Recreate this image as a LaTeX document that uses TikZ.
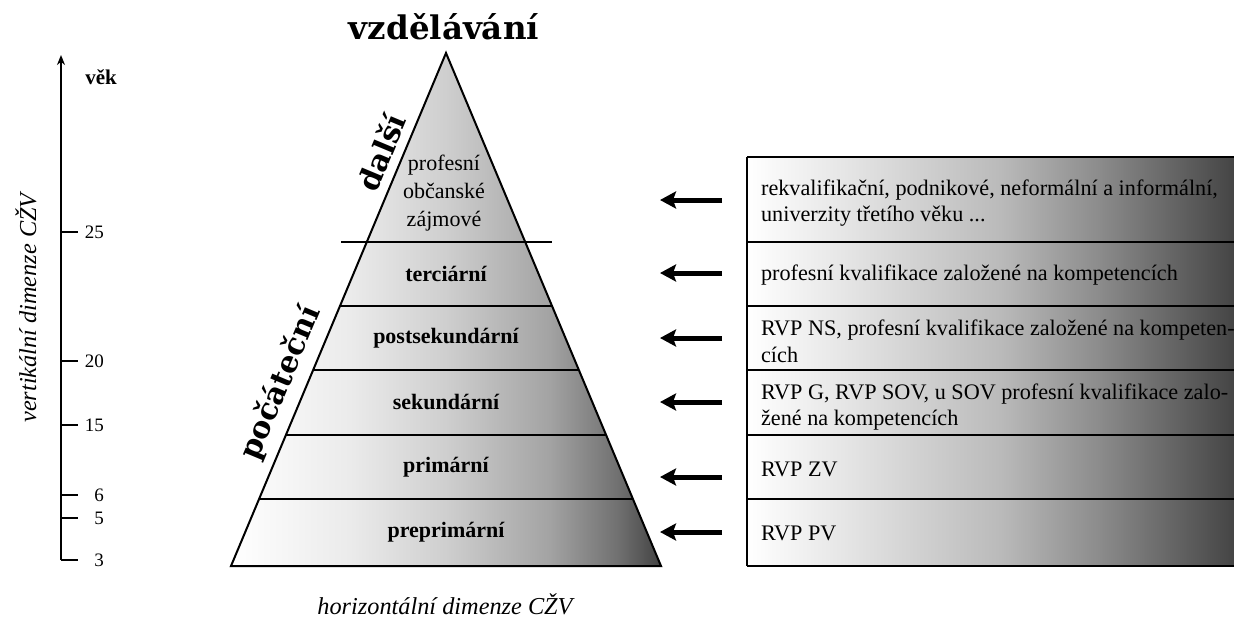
\documentclass[tikz,border=0pt]{standalone}
\usepackage{fontspec}
\setmainfont{Liberation Serif}
\newfontfamily\headfont{DejaVu Serif}
\usetikzlibrary{calc,arrows.meta}

\pgfdeclarehorizontalshading{pyrshade}{100bp}{color(0bp)=(white); color(25bp)=(white);
    color(39bp)=(black!8); color(50bp)=(black!19); color(62bp)=(black!36);
    color(70bp)=(black!56); color(75bp)=(black!74); color(100bp)=(black!74)}
\pgfdeclarehorizontalshading{boxshade}{100bp}{color(0bp)=(white); color(25bp)=(white);
    color(35bp)=(black!10); color(51bp)=(black!27); color(61bp)=(black!45);
    color(71bp)=(black!65); color(75bp)=(black!73); color(100bp)=(black!73)}

\begin{document}
\begin{tikzpicture}[x=1pt,y=-1pt,line width=1.6pt,
    lvl/.style={font=\fontsize{22}{28}\selectfont\bfseries},
    note/.style={anchor=west,align=left,font=\fontsize{22.2}{26.7}\selectfont},
    headtxt/.style={font=\headfont\bfseries\fontsize{30}{36}\selectfont},
    agetick/.style={anchor=east,font=\fontsize{19}{22}\selectfont},
    dimtxt/.style={font=\itshape\fontsize{24.3}{28}\selectfont,inner sep=0pt},
    ptr/.style={line width=5pt,-{Stealth[length=16pt,width=17pt,inset=3pt]}}]
    \useasboundingbox (0,0) rectangle (1234,619);

    % vertical axis
    \coordinate (ax0) at (61,560);
    \coordinate (ax1) at (61,55);
    \draw[line width=2pt,-{Stealth[length=10pt,width=8pt]}] (ax0) -- (ax1);
    \foreach \y/\a in {232/25,361/20,425/15,495/6,518/5,560/3} {
        \draw[line width=2pt] (61,\y) -- (78,\y);
        \node[agetick] (age\a) at (108,\y) {\a};
    }
    \node[font=\bfseries\fontsize{21}{24}\selectfont] (vek) at (101,77) {věk};
    \node[dimtxt,rotate=90] (vdim) at (26,308) {vertikální dimenze CŽV};

    % pyramid
    \coordinate (apex) at (446,53);
    \coordinate (bl) at (231,566);
    \coordinate (br) at (661,566);
    \shade[shading=pyrshade] (apex) -- (bl) -- (br) -- cycle;
    \foreach \t in {0.4932,0.6179,0.7446,0.8694} {
        \draw[line width=1.3pt] ($(apex)!\t!(bl)$) -- ($(apex)!\t!(br)$);
    }
    \draw[line width=1.3pt] (341,242) -- (552,242);
    \draw[line width=2pt,line join=miter] (apex) -- (bl) -- (br) -- cycle;

    \foreach \y/\n/\txt in {274/terc/terciární,338/post/postsekundární,
                            402/sek/sekundární,467/prim/primární,
                            532/pre/preprimární} {
        \node[lvl] (\n) at (446,\y) {\txt};
    }
    \node[align=center,font=\fontsize{22}{28}\selectfont] (dalsitxt) at (444,193)
        {profesní\\občanské\\zájmové};

    \node[headtxt,font=\headfont\bfseries\fontsize{32.5}{36}\selectfont] (vzd) at (444,27) {vzdělávání};
    \node[headtxt,rotate=67.3] (dalsi) at (381,152) {další};
    \node[headtxt,rotate=67.3] (pocat) at (281,383) {počáteční};

    \node[dimtxt] (hdim) at (445,604) {horizontální dimenze CŽV};

    % boxes on the right
    \shade[shading=boxshade] (747,157) rectangle (1234,566);
    \foreach \y in {157,242,306,370,435,499,566} {
        \draw (747,\y) -- (1234,\y);
    }
    \draw (747,157) -- (747,566);

    \node[note] (n1) at (757,203) {rekvalifikační, podnikové, neformální a informální,\\univerzity třetího věku ...};
    \node[note] (n2) at (757,275) {profesní kvalifikace založené na kompetencích};
    \node[note] (n3) at (757,341) {RVP NS, profesní kvalifikace založené na kompeten-\\cích};
    \node[note] (n4) at (757,407) {RVP G, RVP SOV, u SOV profesní kvalifikace zalo-\\žené na kompetencích};
    \node[note] (n5) at (757,469) {RVP ZV};
    \node[note] (n6) at (757,533) {RVP PV};

    % arrows
    \foreach \i/\y in {1/200,2/273,3/338,4/402,5/477,6/532} {
        \coordinate (s\i) at (722,\y);
        \coordinate (e\i) at (660,\y);
        \draw[ptr] (s\i) -- (e\i);
    }
\end{tikzpicture}
\end{document}
